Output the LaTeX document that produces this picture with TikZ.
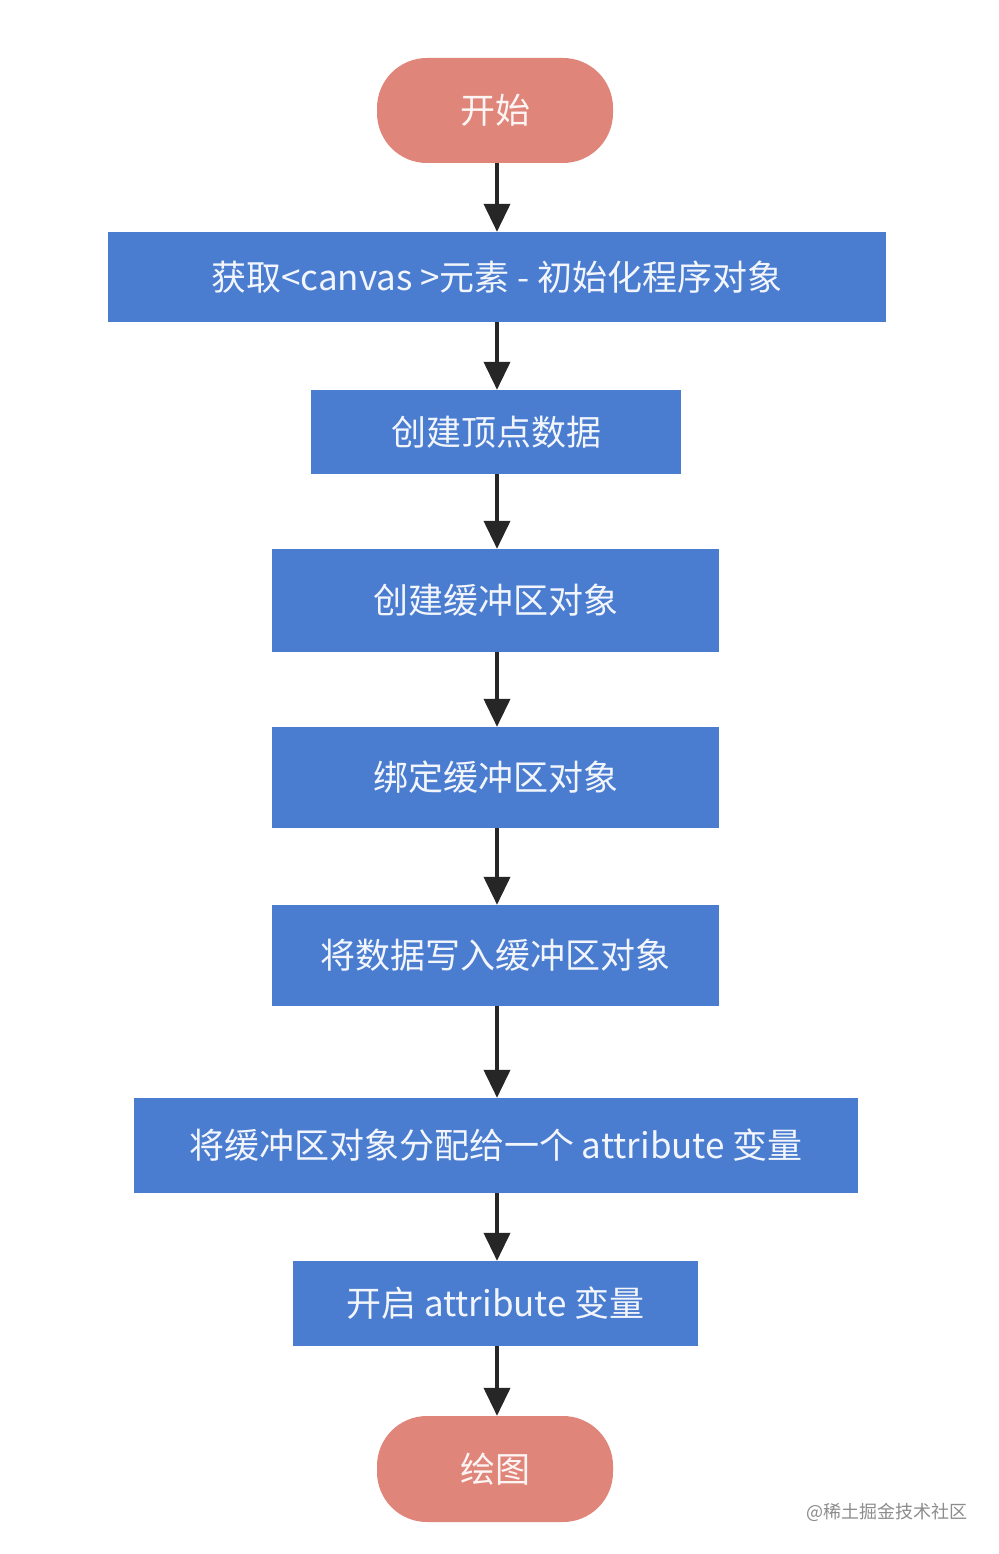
\documentclass[tikz,border=0pt]{standalone}
\usepackage{fontspec}
\setmainfont{Noto Sans CJK SC}
\usetikzlibrary{arrows.meta}
\definecolor{term}{HTML}{E0857A}
\definecolor{proc}{HTML}{4A7CCF}
\begin{document}
\begin{tikzpicture}[x=1pt,y=-1pt,
  termbox/.style={fill=term,draw=none,rounded corners=50pt,text=white!92!term,font=\fontsize{35}{40}\selectfont,minimum width=236pt,minimum height=105pt,inner sep=0pt},
  procbox/.style={fill=proc,draw=none,text=white!93!proc,font=\fontsize{35}{40}\selectfont,inner sep=0pt},
  flow/.style={line width=4pt,black!85,-{Triangle[length=28pt,width=26pt]}}]
\useasboundingbox (0,0) rectangle (998,1554);
\fill[white] (0,0) rectangle (998,1554);
\node[termbox] (s) at (495,110.5) {开始};
\node[procbox,minimum width=778pt,minimum height=90pt] (b1) at (497,277) {获取<canvas >元素 - 初始化程序对象};
\node[procbox,minimum width=370pt,minimum height=84pt] (b2) at (496,432) {创建顶点数据};
\node[procbox,minimum width=447pt,minimum height=103pt] (b3) at (495.5,600.5) {创建缓冲区对象};
\node[procbox,minimum width=447pt,minimum height=101pt] (b4) at (495.5,777.5) {绑定缓冲区对象};
\node[procbox,minimum width=447pt,minimum height=101pt] (b5) at (495.5,955.5) {将数据写入缓冲区对象};
\node[procbox,minimum width=724pt,minimum height=95pt] (b6) at (496,1145.5) {将缓冲区对象分配给一个 attribute 变量};
\node[procbox,minimum width=405pt,minimum height=85pt] (b7) at (495.5,1303.5) {开启 attribute 变量};
\node[termbox,minimum height=106pt] (e) at (495,1469) {绘图};
\foreach \a/\b in {s/b1,b1/b2,b2/b3,b3/b4,b4/b5,b5/b6,b6/b7,b7/e}
  \draw[flow] (\a.south -| 497,0) -- (\b.north -| 497,0);
\node[text=black!45,font=\fontsize{18}{21}\selectfont,inner sep=0pt] (wm) at (887,1512) {@稀土掘金技术社区};
\end{tikzpicture}
\end{document}
